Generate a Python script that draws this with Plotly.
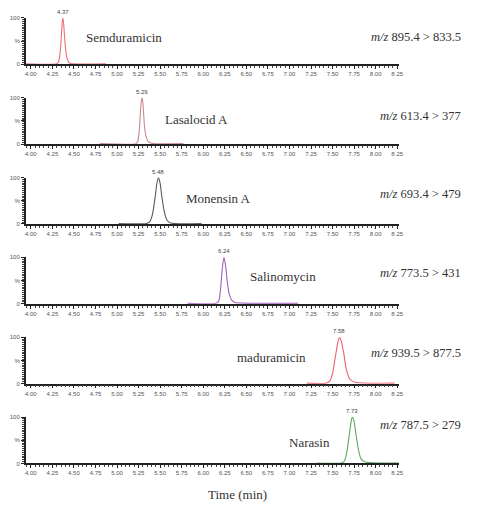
import plotly.graph_objects as go

# ---- data ----
names = ["Semduramicin", "Lasalocid A", "Monensin A", "Salinomycin", "maduramicin", "Narasin"]
transitions = ["895.4 > 833.5", "613.4 > 377", "693.4 > 479", "773.5 > 431", "939.5 > 877.5", "787.5 > 279"]
peak_labels = ["4.37", "5.29", "5.48", "6.24", "7.58", "7.73"]

sem_t = [3.94, 4.30, 4.32, 4.34, 4.35, 4.36, 4.37, 4.38, 4.39, 4.40, 4.42, 4.44, 4.46, 4.87]
sem_i = [1, 1, 5, 25, 50, 80, 100, 88, 62, 38, 12, 4, 1.5, 1]

las_t = [4.80, 5.22, 5.24, 5.26, 5.27, 5.28, 5.29, 5.30, 5.31, 5.32, 5.34, 5.36, 5.40, 5.77]
las_i = [1, 1, 6, 35, 65, 90, 100, 88, 60, 35, 14, 6, 2, 1]

mon_t = [5.02, 5.34, 5.38, 5.41, 5.44, 5.46, 5.48, 5.50, 5.52, 5.55, 5.58, 5.62, 5.98]
mon_i = [1, 1, 5, 20, 55, 85, 100, 87, 58, 25, 8, 2, 1]

sal_t = [5.82, 6.15, 6.18, 6.20, 6.22, 6.24, 6.26, 6.28, 6.30, 6.33, 6.37, 6.45, 7.10]
sal_i = [1, 1, 6, 30, 75, 100, 80, 45, 22, 8, 3, 1.5, 1]

mad_t = [7.20, 7.42, 7.47, 7.50, 7.53, 7.56, 7.58, 7.60, 7.63, 7.66, 7.70, 7.76, 8.22]
mad_i = [1, 1, 6, 22, 55, 88, 100, 92, 65, 30, 10, 3, 1]

nar_t = [7.32, 7.60, 7.64, 7.67, 7.70, 7.72, 7.73, 7.75, 7.77, 7.80, 7.83, 7.88, 8.27]
nar_i = [1, 1, 6, 30, 70, 95, 100, 90, 65, 30, 10, 3, 1]

x_tick_vals = [4.00, 4.25, 4.50, 4.75, 5.00, 5.25, 5.50, 5.75, 6.00, 6.25, 6.50, 6.75, 7.00, 7.25, 7.50, 7.75, 8.00, 8.25]
y_tick_vals = [0, 50, 100]
y_tick_text = ["0", "%", "100"]

series = [(sem_t, sem_i), (las_t, las_i), (mon_t, mon_i), (sal_t, sal_i), (mad_t, mad_i), (nar_t, nar_i)]
colors = ["#ee6f78", "#c98a8e", "#5a5a5a", "#a35fbf", "#ee5d6c", "#5aaa5a"]

# ---- layout geometry (pixels) ----
W, H = 478, 506
base_px = [62 + 80.8 * k for k in range(6)]
top_px = [b - 47 for b in base_px]
name_xy = [(125, 35), (198, 118), (220, 198), (286, 277), (274, 359), (312, 445)]
mz_y = [34, 114, 193, 273, 354, 427]

fig = go.Figure()
layout = dict(
    width=W, height=H,
    margin=dict(l=0, r=0, t=0, b=0),
    paper_bgcolor="white", plot_bgcolor="white",
    showlegend=False,
)
annotations = []
xdom = [25 / W, 403 / W]

for k, ((t, v), c) in enumerate(zip(series, colors)):
    sx = "" if k == 0 else str(k + 1)
    fig.add_trace(go.Scatter(
        x=t, y=v, mode="lines", line=dict(color=c, width=1.1, shape="spline", smoothing=0.6),
        xaxis="x" + sx, yaxis="y" + sx, hoverinfo="skip"))
    layout["xaxis" + sx] = dict(
        domain=xdom, anchor="y" + sx, range=[3.94, 8.27],
        tickvals=x_tick_vals, ticktext=["%.2f" % a for a in x_tick_vals],
        ticks="outside", ticklen=3, tickwidth=1, tickcolor="#222",
        tickfont=dict(family="Liberation Sans Narrow, Liberation Sans, Arial", size=6, color="#555"),
        showline=True, linecolor="#222", linewidth=1.5,
        showgrid=False, zeroline=False,
        minor=dict(dtick=0.05, tick0=4.0, ticks="outside", ticklen=2, tickcolor="#444", showgrid=False),
    )
    layout["yaxis" + sx] = dict(
        domain=[1 - base_px[k] / H, 1 - top_px[k] / H], anchor="x" + sx, range=[0, 100],
        tickvals=y_tick_vals, ticktext=y_tick_text,
        ticks="outside", ticklen=3, tickwidth=1, tickcolor="#222",
        tickfont=dict(family="Liberation Sans Narrow, Liberation Sans, Arial", size=6, color="#555"),
        showline=True, linecolor="#222", linewidth=1.5,
        showgrid=False, zeroline=False,
        minor=dict(dtick=4, ticks="outside", ticklen=2, tickcolor="#444", showgrid=False),
    )
    # peak label
    pk = t[v.index(max(v))]
    annotations.append(dict(x=pk, y=100, xref="x" + sx, yref="y" + sx, text=peak_labels[k],
                            showarrow=False, yanchor="bottom", yshift=1,
                            font=dict(family="Liberation Sans Narrow, Liberation Sans, Arial", size=6, color="#444")))
    nx, ny = name_xy[k]
    annotations.append(dict(x=nx / W, y=1 - ny / H, xref="paper", yref="paper", text=names[k],
                            showarrow=False, xanchor="center", yanchor="middle",
                            font=dict(family="Liberation Serif, Times New Roman", size=13, color="#333")))
    annotations.append(dict(x=468 / W, y=1 - mz_y[k] / H, xref="paper", yref="paper",
                            text="<i>m/z</i> " + transitions[k],
                            showarrow=False, xanchor="right", yanchor="middle",
                            font=dict(family="Liberation Serif, Times New Roman", size=12.5, color="#333")))

annotations.append(dict(x=240 / W, y=1 - 497 / H, xref="paper", yref="paper", text="Time (min)",
                        showarrow=False, xanchor="center", yanchor="middle",
                        font=dict(family="Liberation Serif, Times New Roman", size=13, color="#333")))
layout["annotations"] = annotations
fig.update_layout(**layout)
fig.write_html("out.html", config={"displayModeBar": False},
               post_script="document.body.style.margin='0';document.body.style.overflow='hidden';")
